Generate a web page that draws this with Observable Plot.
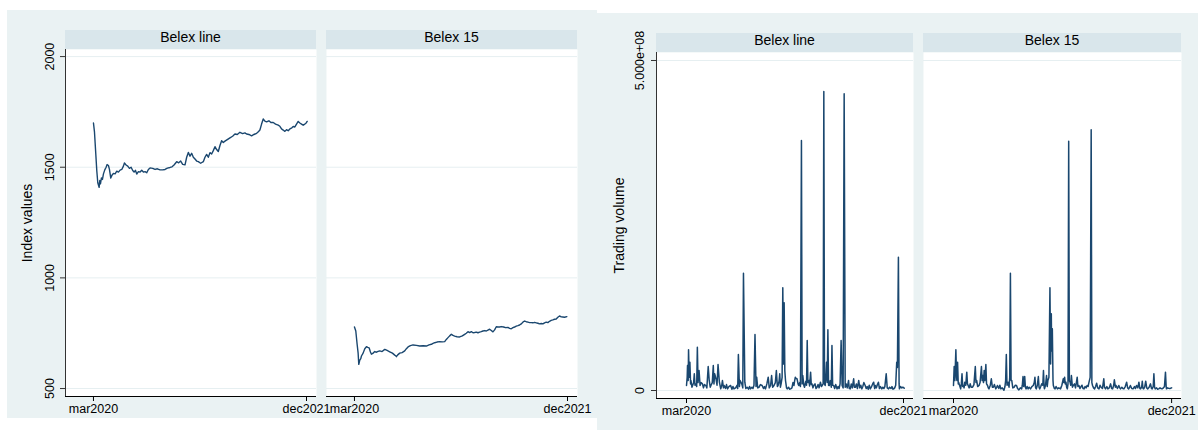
<!DOCTYPE html>
<html><head><meta charset="utf-8">
<script src="https://cdn.jsdelivr.net/npm/d3@7"></script>
<script src="https://cdn.jsdelivr.net/npm/@observablehq/plot@0.6"></script>
<style>
body{margin:0;background:#fff;}
#root{position:relative;width:1198px;height:430px;overflow:hidden;font-family:"Liberation Sans",Arial,sans-serif;}
.bg{position:absolute;background:#eaf2f3;}
.strip{position:absolute;background:#d9e6eb;text-align:center;font-size:14px;line-height:15px;color:#000;white-space:nowrap;}
</style></head><body><div id="root"></div>
<script>
// ---- data (day offsets from 2020-03-02) ----
const panelNames = ["Belex line", "Belex 15"];
const tickDays = [0, 640];
const tickLabels = ["mar2020", "dec2021"];
const indexTicks = [500, 1000, 1500, 2000];
const volumeTicks = [0, 5e8];
const volumeTickLabels = ["0", "5.000e+08"];

const belexLineIndexDays = [0,3,7,10,13,17,19,21,24,27,30,34,38,41,45,48,52,56,60,65,70,75,80,85,90,93,98,103,108,113,118,122,126,130,135,140,145,150,155,160,165,170,178,185,192,200,208,215,222,230,236,242,250,256,262,268,275,280,285,290,295,300,305,310,315,322,330,335,340,345,350,355,360,365,370,375,380,385,390,395,402,410,418,425,432,440,448,455,460,467,475,482,490,496,500,505,510,515,520,527,533,540,547,555,560,565,570,575,580,585,590,596,600,605,610,615,620,625,630,635,639,642];
const belexLineIndex = [1700,1660,1560,1484,1430,1409,1440,1425,1452,1445,1470,1488,1500,1512,1508,1490,1451,1465,1472,1470,1482,1478,1487,1490,1505,1519,1510,1505,1495,1500,1485,1478,1486,1469,1480,1478,1486,1478,1480,1475,1490,1497,1495,1490,1493,1488,1488,1490,1496,1499,1502,1510,1525,1520,1528,1513,1511,1545,1567,1550,1563,1545,1537,1528,1525,1518,1525,1545,1558,1545,1566,1560,1575,1593,1580,1571,1598,1620,1612,1618,1625,1633,1640,1650,1648,1658,1652,1655,1650,1648,1642,1648,1653,1662,1668,1695,1718,1708,1705,1710,1702,1702,1695,1690,1685,1673,1668,1662,1670,1665,1673,1678,1684,1682,1695,1707,1700,1695,1690,1695,1700,1707];

const belex15IndexDays = [0,4,8,11,13,16,19,21,26,31,36,40,44,48,51,56,61,66,71,76,83,91,98,106,114,121,124,126,130,136,143,151,156,161,168,176,186,196,206,216,224,231,236,241,248,256,264,271,276,281,286,291,296,301,308,316,324,331,336,341,346,351,356,361,366,371,376,381,386,391,396,401,406,411,416,421,426,431,436,441,448,454,461,466,471,476,481,486,491,496,501,506,511,516,521,526,531,536,541,546,551,556,561,566,571,576,581,586,591,596,601,606,611,616,621,626,631,638];
const belex15Index = [778,760,700,660,609,628,635,647,660,680,689,686,684,665,655,660,667,664,668,670,667,677,672,666,660,651,648,644,652,660,662,670,680,688,694,697,695,692,693,692,697,700,704,707,710,712,711,712,722,730,738,745,740,737,734,733,738,745,750,757,753,757,752,753,755,752,755,757,760,762,760,764,768,762,756,765,779,778,778,780,778,775,776,772,770,775,778,782,784,787,792,800,805,802,800,798,798,797,799,797,795,792,794,792,797,800,798,804,808,810,813,814,822,828,824,823,822,825];

// trading volume, millions
const belexLineVolDays = [0,2,3,5,6,8,10,12,13,16,18,21,23,25,27,30,32,34,37,40,43,47,50,53,57,60,64,67,70,72,76,79,81,83,87,90,93,97,101,104,106,109,111,115,118,121,125,130,134,137,140,145,149,151,153,156,158,163,166,168,172,175,179,183,186,189,193,196,199,202,205,207,210,214,218,223,227,230,233,237,241,244,248,251,254,258,262,265,268,270,273,275,277,279,282,284,286,288,290,292,295,297,301,304,307,311,314,317,319,321,323,326,329,331,334,336,339,341,343,346,348,352,354,356,358,361,363,366,368,370,373,375,379,382,385,388,391,395,398,400,403,405,407,409,411,413,415,417,419,421,424,427,429,431,434,437,440,444,447,450,453,456,459,462,465,468,471,474,478,480,483,486,489,493,495,498,501,504,508,511,514,517,520,523,527,530,533,536,539,542,545,549,552,555,557,560,563,566,569,572,576,579,582,585,589,592,596,599,603,606,609,611,614,617,620,622,625,627,628,631,635,638,642];
const belexLineVolM = [7.6,20,37.9,15,61.6,20,42.9,10,15.2,5,7.6,12,25.3,8,10.1,6,65.7,12,30.3,7.6,12,10.1,4,9,7.6,4,36.4,15.2,5,7.6,12,37.9,10,25.3,17.7,8,39.4,12.6,2.5,8,15.2,4,7.6,3,9,2.5,6,7.6,2,6,2.5,4,8,3,54.5,6,15.2,10.1,4,177.8,12.6,3,5,2,6,2.5,5,3,8,84.8,6,20.2,4,5,9,7.6,3,6,2.5,10,20.2,4,7.6,22.7,5,7.6,12,30.3,6,7.6,14,25.3,5,10.1,20,155.6,40,132.8,30,15.2,4,2.5,5,2,2.5,4,12,7.6,15,20.2,18,17.7,10,7.6,12,6,378.8,10,22.7,8,5,14,8,75.8,12,15.2,7,27.8,9,10.1,4,7.6,10,3,5,9,4,12.6,6,7.6,10,453,10,7.6,20,42.9,12,91.9,8,7.6,15,5,68.2,8,7.6,3,9,2.5,6,3,10,75.8,7.6,4,449.5,5,10,4,15.2,3,2.5,10,4,17.7,5,5,10,3,15.2,4,8,2.5,6,12,7.6,3,6,2,8,2.5,5,10,12.6,3,7.6,4,9,12.6,3,6,2.5,5,3,6,25.3,4,2.5,5,3,6,2,2.5,4,8,42.9,35,202,10,2.5,6,4,5,3.5];

const belex15VolDays = [0,2,4,7,9,10,12,14,15,18,21,23,25,27,29,31,33,36,39,41,43,46,49,52,56,60,64,66,68,71,75,78,82,84,86,88,90,92,95,97,100,102,104,108,111,114,117,120,124,127,129,133,136,139,143,148,151,153,155,157,160,163,165,167,169,171,174,178,181,185,188,192,196,200,202,204,206,209,211,213,216,219,222,226,230,234,237,239,241,243,246,249,251,253,256,259,262,264,266,267,270,273,275,277,280,283,285,287,288,290,292,293,296,298,301,305,309,314,318,322,324,326,328,330,332,334,336,338,340,342,344,346,349,352,355,358,360,363,365,368,371,373,377,380,383,386,389,392,395,397,401,404,406,408,411,414,417,420,423,427,430,433,437,441,443,446,450,453,457,461,464,467,470,472,475,477,481,485,488,490,494,497,500,504,508,511,514,517,519,523,527,531,534,537,541,544,547,549,552,554,556,558,561,564,567,570,574,578,581,583,586,588,590,592,596,599,602,606,609,612,616,619,622,624,625,628,631,635,640];
const belex15VolM = [7.6,36.4,15,61.6,20,15.2,42.9,10,12.6,7.6,2.5,10,25.3,6,7.6,4,12.6,8,27.8,10,7.6,4,10.1,5,5,9,36.4,12,15.2,6,7.6,12,36.4,15,22.7,12,30.3,15,39.4,10,7.6,4,2.5,8,17.7,5,5,9,2.5,5,7.6,3,8,2.5,4,0.5,6,15,54.5,8,12.6,5,20,177.8,15,15.2,4,5,8,7.6,3,1,4,2.5,8,21.2,6,21.2,5,2.5,6,2.5,5,2.5,6,7.6,12,20.2,4,2.5,8,21.2,5,2.5,6,10.1,8,30.3,5,2.5,8,22.7,6,15.2,20,155.6,40,116.2,60,93.4,15,7.6,3,2.5,6,2.5,4,2.5,8,17.7,12,20.2,10,12.6,5,2.5,10,377.7,15,12.6,8,22.7,5,8,10.1,4,10,20.2,6,7.6,3,5,8,3,2.5,6,4,7.6,6,11.1,20,394.9,12,7.6,4,2.5,6,11.1,4,2.5,8,5,3,17.7,5,2.5,6,2.5,4,10.1,3,2.5,8,16.2,5,7.6,3,7.6,4,2.5,5,3,2.5,6,12.6,4,2.5,5,7.6,3,2.5,6,3,7.6,4,12.6,3,2.5,5,14.1,3,2.5,5,14.1,4,2.5,5,10.1,3,2.5,6,25.3,5,2.5,4,2,2.5,4,3,2.5,4,6,27.8,6,2.5,4,3.5,3,4];

// ---- helpers ----
const t0 = Date.UTC(2020, 2, 2), DAY = 864e5;
const toDate = d => new Date(t0 + d * DAY);
const rows = (days, vals, k = 1) => days.map((d, i) => ({date: toDate(d), value: vals[i] * k}));
const tickDates = tickDays.map(toDate);
const lineColor = "#1a476f", gridColor = "#e6eff1";
const FONT = '"Liberation Sans", Arial, sans-serif';
const root = document.getElementById("root");

function div(cls, l, t, w, h, text) {
  const e = document.createElement("div");
  e.className = cls;
  Object.assign(e.style, {left: l + "px", top: t + "px", width: w + "px", height: h + "px"});
  if (text) e.textContent = text;
  root.appendChild(e);
}

function panel(o) {
  const mL = 60, mR = 20, mT = 30, mB = 30;
  const w = o.x1 - o.x0, h = o.y1 - o.y0;
  div("strip", o.x0, o.y0 - 19, w, 19, o.name);
  const marks = [
    Plot.frame({fill: "white", stroke: "none"}),
    Plot.ruleY(o.yTicks, {stroke: gridColor, strokeWidth: 1}),
    Plot.line(o.data, {x: "date", y: "value", stroke: lineColor, strokeWidth: o.sw}),
    Plot.ruleY([o.ydom[0]], {stroke: "black", strokeWidth: 1}),
    Plot.axisX({ticks: tickDates, tickSize: 5, tickPadding: o.xPad, fontSize: 12.5, fill: "black", stroke: "black",
      tickFormat: d => tickLabels[tickDates.findIndex(t => +t === +d)], label: null})
  ];
  if (o.showY) {
    marks.push(
      Plot.ruleX([toDate(o.xdom[0])], {stroke: "#333", strokeWidth: 1}),
      Plot.axisY({ticks: o.yTicks, tickSize: 5, tickRotate: -90, tickPadding: o.yPad, fontSize: 12.5,
        tickFormat: o.yFormat, label: null, stroke: "#333", fill: "black"}),
      Plot.text([o.title], {frameAnchor: "left", rotate: -90, dx: o.titleDx, lineAnchor: "bottom",
        textAnchor: "middle", fontSize: 14, fill: "black"})
    );
  }
  const svg = Plot.plot({
    width: w + mL + mR, height: h + mT + mB,
    marginLeft: mL, marginRight: mR, marginTop: mT, marginBottom: mB,
    x: {type: "utc", domain: [toDate(o.xdom[0]), toDate(o.xdom[1])], label: null},
    y: {type: "linear", domain: o.ydom, label: null, axis: o.showY ? undefined : null},
    style: {position: "absolute", left: (o.x0 - mL) + "px", top: (o.y0 - mT) + "px",
      background: "transparent", overflow: "visible", fontFamily: FONT, fontSize: "12.5px", color: "black", maxWidth: "none"},
    marks
  });
  root.appendChild(svg);
}

// backgrounds
div("bg", 7, 10, 590, 408);
div("bg", 597, 13, 601, 417);

// left graph: index values
const idxY = [464, 2032];
const idxFmt = d => String(d);
panel({name: panelNames[0], x0: 65, x1: 316, y0: 49, y1: 396, xdom: [-84, 670], ydom: idxY,
  data: rows(belexLineIndexDays, belexLineIndex), yTicks: indexTicks, yFormat: idxFmt, sw: 1.4,
  showY: true, yPad: 6.5, xPad: 2.5, title: "Index values", titleDx: -34});
panel({name: panelNames[1], x0: 326, x1: 577, y0: 49, y1: 396, xdom: [-84, 670], ydom: idxY,
  data: rows(belex15IndexDays, belex15Index), yTicks: indexTicks, showY: false, xPad: 2.5, sw: 1.4});

// right graph: trading volume
const volY = [-1.21e7, 5.121e8];
const volFmt = d => volumeTickLabels[volumeTicks.indexOf(d)];
panel({name: panelNames[0], x0: 656, x1: 913, y0: 52, y1: 398, xdom: [-88.5, 669.5], ydom: volY,
  data: rows(belexLineVolDays, belexLineVolM, 1e6), yTicks: volumeTicks, yFormat: volFmt, sw: 1.5,
  showY: true, yPad: 7.5, xPad: 3, title: "Trading volume", titleDx: -33});
panel({name: panelNames[1], x0: 923, x1: 1181, y0: 52, y1: 398, xdom: [-88, 669], ydom: volY,
  data: rows(belex15VolDays, belex15VolM, 1e6), yTicks: volumeTicks, showY: false, xPad: 3, sw: 1.5});
</script>
</body></html>
